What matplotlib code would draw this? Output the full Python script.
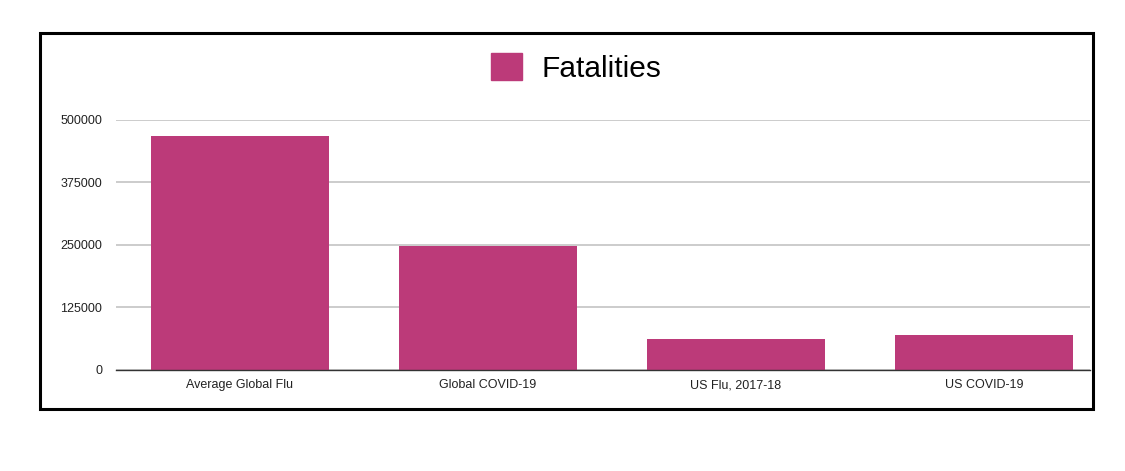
import matplotlib
matplotlib.use("Agg")
import matplotlib.pyplot as plt
from matplotlib.patches import Rectangle, Patch

categories = ["Average Global Flu", "Global COVID-19", "US Flu, 2017-18", "US COVID-19"]
fatalities = [467000, 247500, 61900, 70000]
yticks = [0, 125000, 250000, 375000, 500000]
series_name = "Fatalities"

bar_color = "#BC3A79"
W, H = 1125, 471

plt.rcParams["font.family"] = ["Liberation Sans", "DejaVu Sans"]

fig = plt.figure(figsize=(W / 100, H / 100), dpi=100)
fig.patch.set_facecolor("white")

# plot area in pixels: left 116, right 1090, baseline 370, 500000 line at 119.5
ax = fig.add_axes([116 / W, (H - 370) / H, (1090 - 116) / W, (370 - 119.5) / H])

x = range(len(categories))
ax.bar(x, fatalities, width=0.714, color=bar_color, zorder=3)

ax.set_xlim(-0.5, (1090 - 116) / 248 - 0.5)
ax.set_ylim(0, 500000)
ax.set_yticks(yticks)
ax.set_yticklabels([str(t) for t in yticks])
ax.set_xticks(list(x))
ax.set_xticklabels(categories)
ax.tick_params(axis="both", length=0, labelsize=9, colors="#222222")
ax.tick_params(axis="y", pad=10)
ax.tick_params(axis="x", pad=6.5)

ax.grid(axis="y", color="#c8c8c8", linewidth=1.3, zorder=0)
for s in ["top", "right", "left"]:
    ax.spines[s].set_visible(False)
ax.spines["bottom"].set_color("#333333")
ax.spines["bottom"].set_linewidth(1.0)
ax.spines["bottom"].set_zorder(4)

fig.legend(handles=[Patch(color=bar_color, label=series_name)],
           loc="center", bbox_to_anchor=(576 / W, (H - 68) / H),
           frameon=False, fontsize=21.5, handlelength=1.04, handleheight=1.02,
           handletextpad=0.64, borderpad=0)

# black frame around the chart
fig.patches.append(Rectangle((39.5 / W, (H - 408.5) / H), (1092.5 - 39.5) / W,
                             (408.5 - 32.5) / H, transform=fig.transFigure,
                             fill=False, edgecolor="black", linewidth=2.2))

fig.savefig("out.png", dpi=100)
